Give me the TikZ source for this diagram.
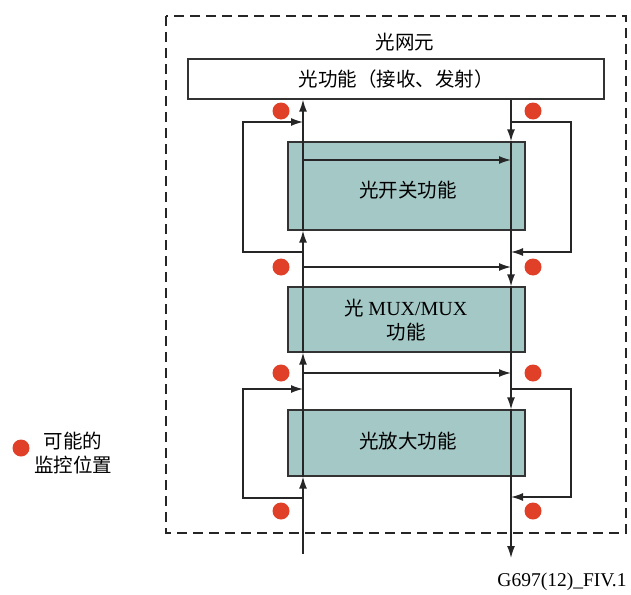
\documentclass[tikz,border=0pt]{standalone}
\usepackage{fontspec}
\setmainfont{Liberation Serif}
\newfontfamily\cjk{Noto Sans CJK SC}
\usetikzlibrary{arrows.meta,calc}
\definecolor{boxgreen}{RGB}{163,200,198}
\definecolor{dotred}{RGB}{224,64,40}
\tikzset{
  txt/.style={font=\cjk\fontsize{19.5}{24}\selectfont, inner sep=0pt, align=center},
  topbox/.style={draw=black!80, line width=1.3pt, fill=white, inner sep=0pt},
  funcbox/.style={draw=black!80, line width=1.3pt, fill=boxgreen, inner sep=0pt, align=center},
  sig/.style={draw=black!85, line width=1.4pt},
  arr/.style={sig, -{Latex[length=12pt,width=8pt]}},
  mdot/.style={circle, fill=dotred, minimum size=17pt, inner sep=0pt},
  frame/.style={draw=black!85, line width=1.3pt, dash pattern=on 10pt off 6pt}
}
\begin{document}
\begin{tikzpicture}[x=1pt,y=-1pt]
\useasboundingbox (0,0) rectangle (631,594);
% outer dashed frame
\draw[frame] (166,16) rectangle (626,533);
\node[txt] (title) at (405,42) {光网元};
% boxes
\node[topbox, minimum width=416pt, minimum height=40pt] (top) at (396,79) {};
\node[txt] (toptxt) at (top.center) {光功能（接收、发射）};
\node[funcbox, minimum width=237pt, minimum height=88pt] (b1) at (406.5,186) {};
\node[funcbox, minimum width=237pt, minimum height=65pt] (b2) at (406.5,319.5) {};
\node[funcbox, minimum width=237pt, minimum height=66pt] (b3) at (406.5,443) {};
\node[txt] (b1t) at (408,190) {光开关功能};
\node[txt] (b2t) at (406,320) {光 {\rmfamily\fontsize{20}{24}\selectfont MUX/MUX}\\功能};
\node[txt] (b3t) at (408,441) {光放大功能};
% reference coordinates for the two signal paths
\coordinate (L) at (303,0);
\coordinate (R) at (511,0);
\coordinate (Lbot) at (303,554);
\coordinate (Rbot) at (511,558);
% left (upward) path
\draw[arr] (Lbot) -- (b3.south -| L);
\draw[arr] (b3.south -| L) -- (b2.south -| L);
\draw[arr] (b2.south -| L) -- (b1.south -| L);
\draw[arr] (b1.south -| L) -- (top.south -| L);
% right (downward) path
\draw[arr] (top.south -| R) -- (b1.north -| R);
\draw[arr] (b1.north -| R) -- (b2.north -| R);
\draw[arr] (b2.north -| R) -- (b3.north -| R);
\draw[arr] (b3.north -| R) -- (Rbot);
% horizontal cross connections
\coordinate (h1L) at (303,160); \coordinate (h1R) at (511,160);
\coordinate (h2L) at (303,267); \coordinate (h2R) at (511,267);
\coordinate (h3L) at (303,373); \coordinate (h3R) at (511,373);
\draw[arr] (h1L) -- (h1R);
\draw[arr] (h2L) -- (h2R);
\draw[arr] (h3L) -- (h3R);
% bypass loops around switch
\coordinate (l1a) at (303,252); \coordinate (l1b) at (303,122);
\draw[arr] (l1a) -- (243,252) -- (243,122) -- (l1b);
\coordinate (r1a) at (511,122); \coordinate (r1b) at (511,252);
\draw[arr] (r1a) -- (571,122) -- (571,252) -- (r1b);
% bypass loops around amplifier
\coordinate (l3a) at (303,498); \coordinate (l3b) at (303,389);
\draw[arr] (l3a) -- (243,498) -- (243,389) -- (l3b);
\coordinate (r3a) at (511,389); \coordinate (r3b) at (511,497);
\draw[arr] (r3a) -- (571,389) -- (571,497) -- (r3b);
% monitoring points
\node[mdot] (d1) at (281,111) {};
\node[mdot] (d2) at (533,111) {};
\node[mdot] (d3) at (281,267) {};
\node[mdot] (d4) at (533,267) {};
\node[mdot] (d5) at (281,373) {};
\node[mdot] (d6) at (533,373) {};
\node[mdot] (d7) at (281,511) {};
\node[mdot] (d8) at (533,511) {};
% legend
\node[mdot] (ld) at (21,448) {};
\node[txt] (lt) at (73,453) {可能的\\监控位置};
% figure id
\node[inner sep=0pt, font=\fontsize{19.5}{23}\selectfont] (fid) at (562,582) {G697(12)\_FIV.1};
\end{tikzpicture}
\end{document}
